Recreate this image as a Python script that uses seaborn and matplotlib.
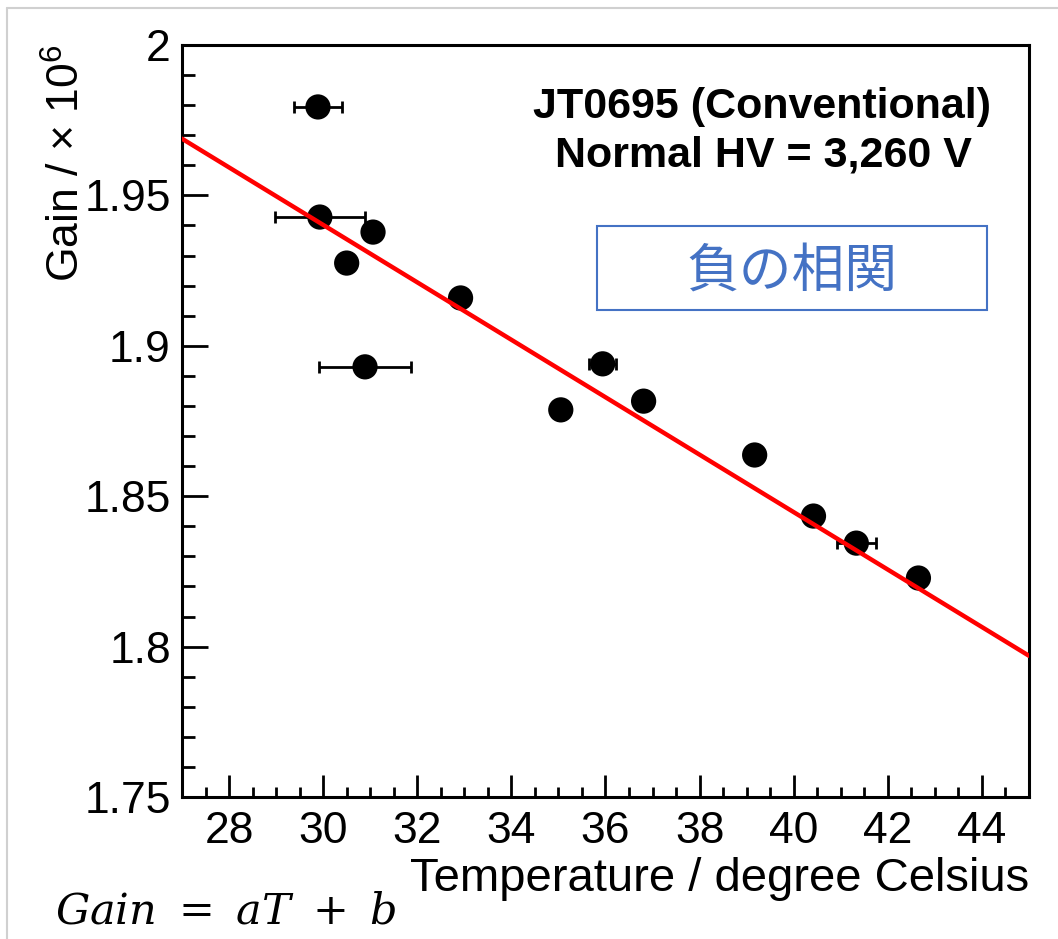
import matplotlib
matplotlib.use("Agg")
import matplotlib.pyplot as plt
from matplotlib.lines import Line2D
from matplotlib.patches import Rectangle
from matplotlib.ticker import MultipleLocator
import numpy as np
import pandas as pd
import seaborn as sns

sns.set_theme(style="ticks")
plt.rcParams["font.family"] = ["Liberation Sans", "DejaVu Sans"]
plt.rcParams["mathtext.fontset"] = "custom"
plt.rcParams["mathtext.rm"] = "Liberation Sans"
plt.rcParams["text.color"] = "black"
plt.rcParams["axes.labelcolor"] = "black"

# measured gain vs temperature
temp = [29.89, 29.93, 31.06, 30.50, 32.92, 30.89, 35.05, 35.94, 36.81, 39.17, 40.42, 41.33, 42.65]
gain = [1.9794, 1.9428, 1.9378, 1.9275, 1.9159, 1.8930, 1.8787, 1.8940, 1.8816, 1.8637, 1.8434, 1.8344, 1.8228]
temp_err = [0.51, 0.96, 0.0, 0.0, 0.0, 0.98, 0.0, 0.28, 0.0, 0.0, 0.0, 0.41, 0.0]

# linear fit Gain = aT + b
fit_a = -0.00955
fit_b = 2.2267
x_range = [27, 45]

df = pd.DataFrame({"temp": temp, "gain": gain, "err": temp_err})
fit = pd.DataFrame({"temp": x_range})
fit["gain"] = fit_a * fit["temp"] + fit_b

fig = plt.figure(figsize=(10.58, 9.39), dpi=100)
ax = fig.add_axes([0.172, 0.1512, 0.8006, 0.8009])

ax.errorbar(df.temp, df.gain, xerr=df.err, fmt="none", ecolor="black",
            elinewidth=2, capsize=4.5, capthick=2, zorder=2)
sns.scatterplot(data=df, x="temp", y="gain", color="black", s=330,
                edgecolor="none", ax=ax, zorder=3)
sns.lineplot(data=fit, x="temp", y="gain", color="#ff0000", linewidth=3.2,
             ax=ax, zorder=4)

ax.set_xlim(27, 45)
ax.set_ylim(1.75, 2.0)
ax.xaxis.set_major_locator(MultipleLocator(2))
ax.xaxis.set_minor_locator(MultipleLocator(0.5))
ax.yaxis.set_major_locator(MultipleLocator(0.05))
ax.yaxis.set_minor_locator(MultipleLocator(0.01))
ax.set_yticks([1.75, 1.8, 1.85, 1.9, 1.95, 2.0], ["1.75", "1.8", "1.85", "1.9", "1.95", "2"])
ax.tick_params(which="both", direction="in", width=2, labelsize=32, colors="black")
ax.tick_params(which="major", axis="y", length=19, pad=8)
ax.tick_params(which="minor", axis="y", length=9.5)
ax.tick_params(which="major", axis="x", length=16, pad=10)
ax.tick_params(which="minor", axis="x", length=7.5)
for s in ax.spines.values():
    s.set_linewidth(2.2)
    s.set_color("black")

ax.set_xlabel("Temperature / degree Celsius", fontsize=34, loc="right", labelpad=4)
ax.set_ylabel(r"Gain / × 10$^6$", fontsize=32, loc="top", labelpad=-3)

ax.text(0.685, 0.917, "JT0695 (Conventional)", transform=ax.transAxes,
        ha="center", va="center", fontsize=31, fontweight="bold")
ax.text(0.686, 0.853, "Normal HV = 3,260 V", transform=ax.transAxes,
        ha="center", va="center", fontsize=31, fontweight="bold")

box = Rectangle((597 / 1058, 1 - 310 / 939), 390 / 1058, 84 / 939,
                transform=fig.transFigure, fill=False, edgecolor="#4472c4", linewidth=1.5)
fig.add_artist(box)
fig.text(792 / 1058, 1 - 271 / 939, "負の相関", ha="center", va="center",
         fontsize=38, color="#4472c4", family=["Noto Sans CJK JP", "DejaVu Sans"])

fig.text(55 / 1058, 1 - 912 / 939, r"$Gain\ =\ aT\ +\ b$", ha="left", va="center",
         fontsize=31, math_fontfamily="dejavuserif")

# slide frame
fig.add_artist(Line2D([7 / 1058, 7 / 1058], [0, 1 - 8 / 939], transform=fig.transFigure,
                      color="#d0d0d0", linewidth=1.5))
fig.add_artist(Line2D([7 / 1058, 1], [1 - 8 / 939, 1 - 8 / 939], transform=fig.transFigure,
                      color="#d0d0d0", linewidth=1.5))

fig.savefig("out.png", dpi=100)
